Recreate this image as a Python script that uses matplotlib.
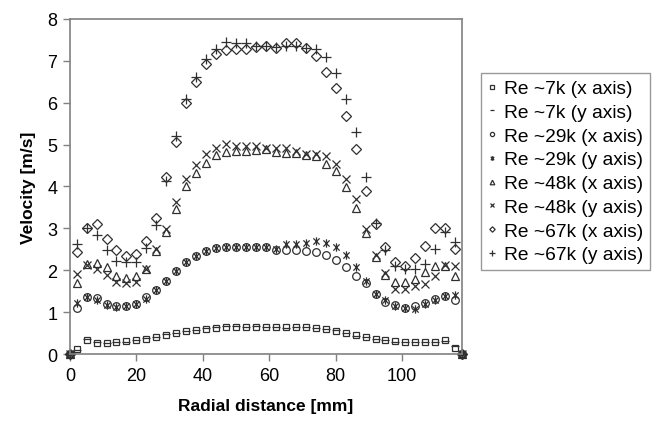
import matplotlib

matplotlib.use('Agg')
import matplotlib.pyplot as plt
from matplotlib.path import Path

plt.rcParams['font.family'] = ['Liberation Sans', 'DejaVu Sans']

# radial positions [mm]
radial = [0, 2, 5, 8, 11, 14, 17, 20, 23, 26, 29, 32, 35, 38, 41, 44, 47, 50, 53, 56,
          59, 62, 65, 68, 71, 74, 77, 80, 83, 86, 89, 92, 95, 98, 101, 104, 107, 110,
          113, 116, 118]

re7_x = [0, 0.12, 0.34, 0.27, 0.26, 0.28, 0.31, 0.33, 0.37, 0.42, 0.46, 0.50, 0.55, 0.58,
         0.61, 0.63, 0.64, 0.65, 0.64, 0.65, 0.64, 0.64, 0.64, 0.64, 0.64, 0.63, 0.60, 0.56,
         0.50, 0.46, 0.41, 0.37, 0.34, 0.31, 0.30, 0.30, 0.30, 0.30, 0.33, 0.15, 0]
re7_y = [0, 0.10, 0.36, 0.28, 0.27, 0.30, 0.30, 0.34, 0.38, 0.42, 0.47, 0.50, 0.56, 0.58,
         0.62, 0.64, 0.66, 0.67, 0.65, 0.66, 0.64, 0.65, 0.63, 0.65, 0.64, 0.63, 0.59, 0.57,
         0.51, 0.44, 0.41, 0.36, 0.34, 0.29, 0.28, 0.28, 0.29, 0.28, 0.31, 0.20, 0]
re29_x = [0, 1.10, 1.37, 1.33, 1.20, 1.15, 1.15, 1.20, 1.37, 1.52, 1.75, 1.99, 2.20, 2.33,
          2.46, 2.53, 2.55, 2.55, 2.55, 2.55, 2.55, 2.48, 2.48, 2.48, 2.47, 2.43, 2.36, 2.24,
          2.09, 1.87, 1.69, 1.43, 1.25, 1.17, 1.11, 1.14, 1.23, 1.31, 1.38, 1.30, 0]
re29_y = [0, 1.22, 1.37, 1.28, 1.18, 1.13, 1.14, 1.20, 1.32, 1.52, 1.75, 1.99, 2.20, 2.33,
          2.47, 2.53, 2.56, 2.56, 2.55, 2.55, 2.55, 2.50, 2.62, 2.62, 2.66, 2.70, 2.66, 2.55,
          2.36, 2.09, 1.75, 1.43, 1.30, 1.15, 1.10, 1.08, 1.20, 1.28, 1.38, 1.40, 0]
re48_x = [0, 1.70, 2.14, 2.17, 2.07, 1.87, 1.82, 1.86, 2.02, 2.45, 2.92, 3.46, 4.02, 4.32,
          4.55, 4.76, 4.83, 4.85, 4.85, 4.86, 4.89, 4.83, 4.80, 4.80, 4.75, 4.73, 4.53, 4.37,
          3.98, 3.48, 2.90, 2.32, 1.90, 1.72, 1.72, 1.79, 1.95, 2.10, 2.10, 1.87, 0]
re48_y = [0, 1.92, 2.12, 2.03, 1.88, 1.71, 1.70, 1.73, 2.04, 2.50, 2.98, 3.63, 4.18, 4.52,
          4.77, 4.93, 5.01, 4.97, 4.97, 4.96, 4.92, 4.93, 4.93, 4.85, 4.77, 4.77, 4.72, 4.53,
          4.18, 3.70, 2.98, 2.36, 1.93, 1.55, 1.55, 1.63, 1.67, 1.87, 2.12, 2.10, 0]
re67_x = [0, 2.43, 3.02, 3.10, 2.75, 2.49, 2.33, 2.39, 2.70, 3.24, 4.23, 5.05, 5.99, 6.50,
          6.93, 7.17, 7.26, 7.28, 7.28, 7.32, 7.34, 7.30, 7.42, 7.42, 7.30, 7.12, 6.74, 6.36,
          5.69, 4.89, 3.90, 3.10, 2.55, 2.19, 2.11, 2.30, 2.57, 3.00, 3.02, 2.50, 0]
re67_y = [0, 2.62, 3.00, 2.85, 2.48, 2.23, 2.19, 2.19, 2.53, 3.08, 4.14, 5.20, 6.09, 6.62,
          7.05, 7.29, 7.44, 7.42, 7.42, 7.36, 7.36, 7.32, 7.36, 7.36, 7.30, 7.28, 7.10, 6.71,
          6.09, 5.31, 4.23, 3.14, 2.48, 2.10, 2.03, 2.03, 2.15, 2.50, 2.92, 2.67, 0]

labels = ["Re ~7k (x axis)", "Re ~7k (y axis)", "Re ~29k (x axis)", "Re ~29k (y axis)",
          "Re ~48k (x axis)", "Re ~48k (y axis)", "Re ~67k (x axis)", "Re ~67k (y axis)"]

# Excel style star: an x with a vertical bar through it
star = Path([(0, -1), (0, 1), (-0.75, -0.75), (0.75, 0.75), (-0.75, 0.75), (0.75, -0.75)],
            [Path.MOVETO, Path.LINETO, Path.MOVETO, Path.LINETO, Path.MOVETO, Path.LINETO])

series = [re7_x, re7_y, re29_x, re29_y, re48_x, re48_y, re67_x, re67_y]
markers = ['s', '_', 'o', star, '^', 'x', 'D', '+']
sizes = [5, 6, 5.5, 6, 6, 5.5, 5, 7]

fig = plt.figure(figsize=(6.57, 4.31), dpi=100)
ax = fig.add_axes([0.1065, 0.176, 0.5965, 0.778])

mc = '#303030'
for vals, m, s, lab in zip(series, markers, sizes, labels):
    ax.plot(radial, vals, linestyle='none', marker=m, markersize=s, markerfacecolor='none',
            markeredgecolor=mc, markeredgewidth=0.9, label=lab, clip_on=False)

ax.set_xlim(0, 118)
ax.set_ylim(0, 8)
ax.set_xticks([0, 20, 40, 60, 80, 100])
ax.set_yticks(range(0, 9))
ax.tick_params(direction='out', length=5, width=1, color='#808080', labelsize=13, pad=4)
for sp in ax.spines.values():
    sp.set_color('#808080')
    sp.set_linewidth(1.2)

ax.set_xlabel("Radial distance [mm]", fontsize=12.5, fontweight='bold', labelpad=10)
ax.set_ylabel("Velocity [m/s]", fontsize=12.5, fontweight='bold', labelpad=8)

leg = fig.legend(loc='upper left', bbox_to_anchor=(0.732, 0.828), fontsize=13.8,
                 frameon=True, fancybox=False, markerscale=0.55, handlelength=0.5,
                 handletextpad=0.35, borderpad=0.35, labelspacing=0.33, borderaxespad=0)
leg.get_frame().set_edgecolor('#808080')
leg.get_frame().set_linewidth(1.0)

plt.savefig("out.png", dpi=100)
plt.close()
